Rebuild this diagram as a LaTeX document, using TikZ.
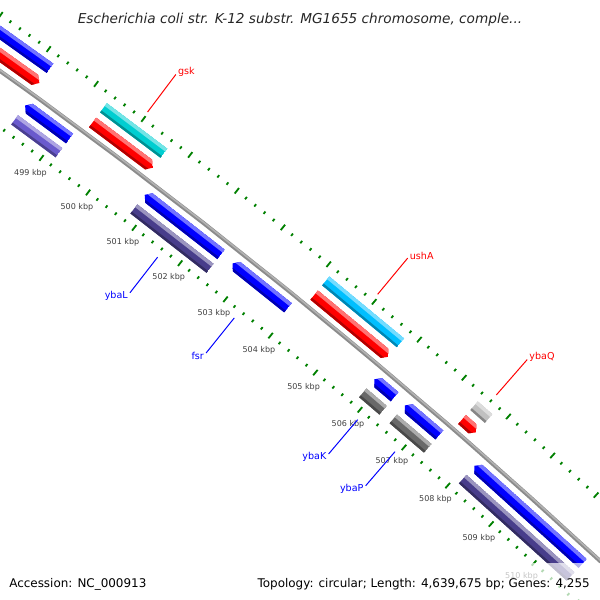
\documentclass[tikz,border=0pt]{standalone}
\usepackage{fontspec}
\setmainfont{DejaVu Sans}

\definecolor{fwdred}{RGB}{255,0,0}
\definecolor{revblue}{RGB}{0,0,255}
\definecolor{cogblue}{RGB}{0,0,255}
\definecolor{cogslate}{RGB}{106,90,205}
\definecolor{cogcyan}{RGB}{0,206,209}
\definecolor{cogsky}{RGB}{0,191,255}
\definecolor{cogdark}{RGB}{72,61,139}
\definecolor{coggray}{RGB}{105,105,105}
\definecolor{cogsilver}{RGB}{192,192,192}
\definecolor{tickgreen}{RGB}{0,128,0}
\definecolor{bbgray}{RGB}{140,140,140}
\definecolor{bblight}{RGB}{178,178,178}

% shaded slot feature: #1 outline, #2-#3 span (kbp), #4-#5 offsets from backbone, #6 colour
\newcommand{\feature}[6]{%
  \begin{scope}
    \clip #1;
    \fill[#6] #1;
    \fill[#6!55!white] ({ga(#2-0.3)}:{6177+(#5)-0.3*((#5)-(#4))}) -- ({ga(#2-0.3)}:{6177+(#5)+1})
      -- ({ga(#3+0.3)}:{6177+(#5)+1}) -- ({ga(#3+0.3)}:{6177+(#5)-0.3*((#5)-(#4))}) -- cycle;
    \fill[#6!70!black] ({ga(#2-0.3)}:{6177+(#4)-1}) -- ({ga(#2-0.3)}:{6177+(#4)+0.22*((#5)-(#4))})
      -- ({ga(#3+0.3)}:{6177+(#4)+0.22*((#5)-(#4))}) -- ({ga(#3+0.3)}:{6177+(#4)-1}) -- cycle;
  \end{scope}}
\newcommand{\fwdgene}[2]{\feature{({ga(#1)}:6184) -- ({ga(#1)}:6196) -- ({ga(#2-0.09)}:6196)
  -- ({ga(#2)}:6190) -- ({ga(#2-0.09)}:6184) -- cycle}{#1}{#2}{7}{19}{fwdred}}
\newcommand{\revgene}[2]{\feature{({ga(#1)}:6163.5) -- ({ga(#1+0.09)}:6169.5) -- ({ga(#2)}:6169.5)
  -- ({ga(#2)}:6157.5) -- ({ga(#1+0.09)}:6157.5) -- cycle}{#1}{#2}{-19.5}{-7.5}{revblue}}
\newcommand{\cogout}[3]{\feature{({ga(#1)}:6202.5) -- ({ga(#1)}:6214) -- ({ga(#2)}:6214)
  -- ({ga(#2)}:6202.5) -- cycle}{#1}{#2}{25.5}{37}{#3}}
\newcommand{\cogin}[3]{\feature{({ga(#1)}:6140) -- ({ga(#1)}:6151.5) -- ({ga(#2)}:6151.5)
  -- ({ga(#2)}:6140) -- cycle}{#1}{#2}{-37}{-25.5}{#3}}

\begin{document}
\begin{tikzpicture}[x=0.025cm, y=-0.025cm,
    declare function={ga(\b)=0.542*(\b-499)-53.56;},
    tickmark/.style={tickgreen, line width=1.3pt},
    kbp/.style={font=\fontsize{5.7}{7}\selectfont, text=black!75, inner sep=0pt},
    fwdlbl/.style={font=\fontsize{6.8}{8}\selectfont, text=fwdred, inner sep=0.7pt,
      anchor=west, xshift=0.7pt, yshift=1.7pt},
    revlbl/.style={font=\fontsize{6.8}{8}\selectfont, text=revblue, inner sep=0.7pt,
      anchor=east, xshift=-0.7pt, yshift=-2.1pt},
    leader/.style={line width=0.7pt},
    footer/.style={font=\fontsize{8.5}{10}\selectfont, inner sep=0pt}]
  \useasboundingbox (0,0) rectangle (600,600);
  \clip (0,0) rectangle (600,600);
  \begin{scope}[shift={(-3600,5090)}]
    \foreach \k in {4968,4970,...,5110} {%
      \pgfmathtruncatemacro\rest{mod(\k,10)}
      \ifnum\rest=0
        \draw[tickmark] ({ga(\k/10)}:6219.5) -- ({ga(\k/10)}:6226.5);
        \draw[tickmark] ({ga(\k/10)}:6127.5) -- ({ga(\k/10)}:6134.5);
      \else
        \draw[tickmark] ({ga(\k/10)}:6221.5) -- ({ga(\k/10)}:6224.5);
        \draw[tickmark] ({ga(\k/10)}:6129.5) -- ({ga(\k/10)}:6132.5);
      \fi
    }
    \draw[bbgray, line width=2.9pt] plot[domain=496.5:511.5, samples=40] ({ga(\x)}:6177);
    \draw[bblight, line width=1.1pt] plot[domain=496.5:511.5, samples=40] ({ga(\x)}:6177.7);
    % hemH aes gsk ybaL fsr ushA ybaK ybaP ybaQ copA
    \fwdgene{497.00}{498.21} \cogout{497.00}{498.21}{cogblue}
    \revgene{498.24}{499.19} \cogin{498.24}{499.19}{cogslate}
    \fwdgene{499.34}{500.63} \cogout{499.34}{500.63}{cogcyan}
    \revgene{500.80}{502.46} \cogin{500.80}{502.46}{cogdark}
    \revgene{502.71}{503.93}
    \fwdgene{504.14}{505.79} \cogout{504.14}{505.79}{cogsky}
    \revgene{505.85}{506.31} \cogin{505.85}{506.31}{coggray}
    \revgene{506.54}{507.32} \cogin{506.54}{507.32}{coggray}
    \fwdgene{507.44}{507.77} \cogout{507.44}{507.77}{cogsilver}
    \revgene{508.12}{510.62} \cogin{508.12}{510.62}{cogdark}
    \foreach \n in {499,...,510}
      \node[kbp] (kbp\n) at ({ga(\n)}:6112.5) {\n\ kbp};
    \foreach \name/\pos in {gsk/499.985, ushA/504.965, ybaQ/507.605} {%
      \coordinate (\name-a) at ({ga(\pos)}:6231);
      \coordinate (\name-b) at ({ga(\pos)}:6278);
      \node[fwdlbl] (\name) at (\name-b) {\name};
      \draw[leader, fwdred] (\name-a) -- (\name-b);
    }
    \foreach \name/\pos in {ybaL/501.63, fsr/503.32, ybaK/506.08, ybaP/506.93} {%
      \coordinate (\name-a) at ({ga(\pos)}:6122);
      \coordinate (\name-b) at ({ga(\pos)}:6077);
      \node[revlbl] (\name) at (\name-b) {\name};
      \draw[leader, revblue] (\name-a) -- (\name-b);
    }
  \end{scope}
  \node[font=\fontsize{9.7}{11}\selectfont\itshape, text=black!85, inner sep=0pt, anchor=base]
    (title) at (300,23) {Escherichia coli str. K-12 substr. MG1655 chromosome, comple...};
  \fill[white, opacity=0.7] (0,563) rectangle (600,600);
  \node[footer, anchor=base west] (acc) at (9,587) {Accession: NC\_000913};
  \node[footer, anchor=base east] (topo) at (590,587)
    {Topology: circular; Length: 4,639,675 bp; Genes: 4,255};
\end{tikzpicture}
\end{document}
